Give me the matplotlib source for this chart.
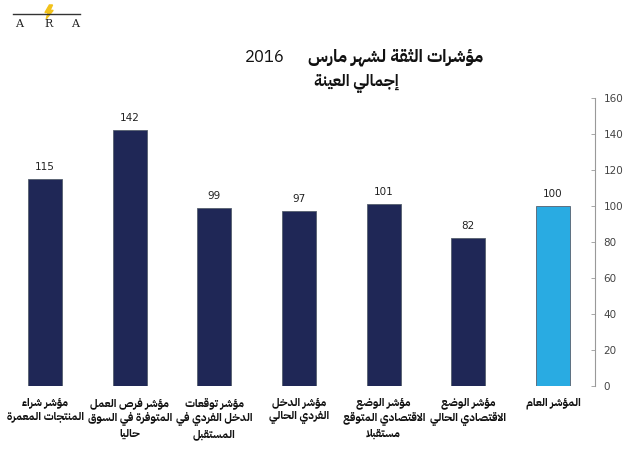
import matplotlib
matplotlib.use("Agg")
import matplotlib.pyplot as plt
from matplotlib.patches import Polygon

# data
categories = [
    "مؤشر شراء\nالمنتجات المعمرة",
    "مؤشر فرص العمل\nالمتوفرة في السوق\nحاليا",
    "مؤشر توقعات\nالدخل الفردي في\nالمستقبل",
    "مؤشر الدخل\nالفردي الحالي",
    "مؤشر الوضع\nالاقتصادي المتوقع\nمستقبلا",
    "مؤشر الوضع\nالاقتصادي الحالي",
    "المؤشر العام",
]
values = [115, 142, 99, 97, 101, 82, 100]
colors = ["#1f2756"] * 6 + ["#29abe2"]
title_ar = "مؤشرات الثقة لشهر مارس"
title_year = "2016"
subtitle_ar = "إجمالي العينة"
yticks = [0, 20, 40, 60, 80, 100, 120, 140, 160]

ARFONT = ["IBM Plex Sans Arabic", "DejaVu Sans"]

# simple arabic shaping (matplotlib has no text shaping)
DUAL = {'ئ': 0xFE89, 'ب': 0xFE8F, 'ت': 0xFE95, 'ث': 0xFE99, 'ج': 0xFE9D,
        'ح': 0xFEA1, 'خ': 0xFEA5, 'س': 0xFEB1, 'ش': 0xFEB5, 'ص': 0xFEB9,
        'ض': 0xFEBD, 'ط': 0xFEC1, 'ظ': 0xFEC5, 'ع': 0xFEC9, 'غ': 0xFECD,
        'ف': 0xFED1, 'ق': 0xFED5, 'ك': 0xFED9, 'ل': 0xFEDD, 'م': 0xFEE1,
        'ن': 0xFEE5, 'ه': 0xFEE9, 'ي': 0xFEF1}
RIGHT = {'آ': 0xFE81, 'أ': 0xFE83, 'ؤ': 0xFE85, 'إ': 0xFE87, 'ا': 0xFE8D,
         'ة': 0xFE93, 'د': 0xFEA9, 'ذ': 0xFEAB, 'ر': 0xFEAD, 'ز': 0xFEAF,
         'و': 0xFEED, 'ى': 0xFEEF}
LAMALEF = {'آ': 0xFEF5, 'أ': 0xFEF7, 'إ': 0xFEF9, 'ا': 0xFEFB}


def shape_word(s):
    # merge lam + alef
    chars = []
    i = 0
    while i < len(s):
        if s[i] == 'ل' and i + 1 < len(s) and s[i + 1] in LAMALEF:
            chars.append(('LA', s[i + 1]))
            i += 2
        else:
            chars.append(('C', s[i]))
            i += 1

    def joins_left(item):  # can connect to the following letter
        return item[0] == 'C' and item[1] in DUAL

    def joins_right(item):  # can connect to the previous letter
        return item[0] == 'LA' or item[1] in DUAL or item[1] in RIGHT

    out = []
    for k, item in enumerate(chars):
        prev_j = k > 0 and joins_left(chars[k - 1]) and joins_right(item)
        nxt_j = (k + 1 < len(chars) and joins_left(item)
                 and joins_right(chars[k + 1]))
        if item[0] == 'LA':
            base = LAMALEF[item[1]]
            out.append(chr(base + (1 if prev_j else 0)))
        elif item[1] in DUAL:
            base = DUAL[item[1]]
            if prev_j and nxt_j:
                off = 3
            elif nxt_j:
                off = 2
            elif prev_j:
                off = 1
            else:
                off = 0
            out.append(chr(base + off))
        elif item[1] in RIGHT:
            out.append(chr(RIGHT[item[1]] + (1 if prev_j else 0)))
        else:
            out.append(item[1])
    return ''.join(out)


def ar(text):
    lines = []
    for line in text.split('\n'):
        words = [shape_word(w) for w in line.split(' ')]
        lines.append(' '.join(words)[::-1])
    return '\n'.join(lines)


fig = plt.figure(figsize=(6.33, 4.5), dpi=100)
ax = fig.add_axes([0.0043, 0.1422, 0.9362, 0.64])

x = list(range(len(values)))
ax.bar(x, values, width=0.4, color=colors, edgecolor="#555f6e", linewidth=0.6)
for xi, v in zip(x, values):
    ax.text(xi, v + 4, str(v), ha="center", va="bottom", fontsize=7.5,
            color="#222222")

ax.set_xlim(-0.5, 6.5)
ax.set_ylim(0, 160)
ax.set_yticks(yticks)
ax.yaxis.tick_right()
ax.tick_params(axis="y", direction="in", length=3, width=0.6, color="#999999",
               labelsize=7.5, labelcolor="#444444", pad=6)
ax.set_xticks([])
for side in ["left", "top", "bottom"]:
    ax.spines[side].set_visible(False)
ax.spines["right"].set_color("#999999")
ax.spines["right"].set_linewidth(0.8)

# category labels under the bars
for xi, lab in zip(x, categories):
    ax.text(xi, -6.5, ar(lab), ha="center", va="top", fontsize=8,
            fontweight="bold", family=ARFONT, color="#111111",
            linespacing=1.33, clip_on=False)

# title
fig.text(0.763, 0.873, ar(title_ar), ha="right", va="center", fontsize=12.5,
         fontweight="bold", family=ARFONT, color="#111111")
fig.text(0.387, 0.873, title_year, ha="left", va="center", fontsize=12,
         family=ARFONT, color="#111111")
fig.text(0.563, 0.815, ar(subtitle_ar), ha="center", va="center",
         fontsize=11.5, fontweight="bold", family=ARFONT, color="#111111")

# logo
fig.lines.append(plt.Line2D([0.021, 0.127], [0.969, 0.969], color="#333333",
                            linewidth=1.0, transform=fig.transFigure))
for lx, letter in zip([0.030, 0.076, 0.118], ["A", "R", "A"]):
    fig.text(lx, 0.947, letter, ha="center", va="center", fontsize=8,
             family="DejaVu Serif", color="#222222")
bolt = Polygon([[0.078, 0.989], [0.071, 0.972], [0.076, 0.972], [0.073, 0.958],
                [0.084, 0.977], [0.079, 0.977], [0.083, 0.989]],
               closed=True, transform=fig.transFigure, color="#f2c21b")
fig.patches.append(bolt)

fig.savefig("out.png", dpi=100)
